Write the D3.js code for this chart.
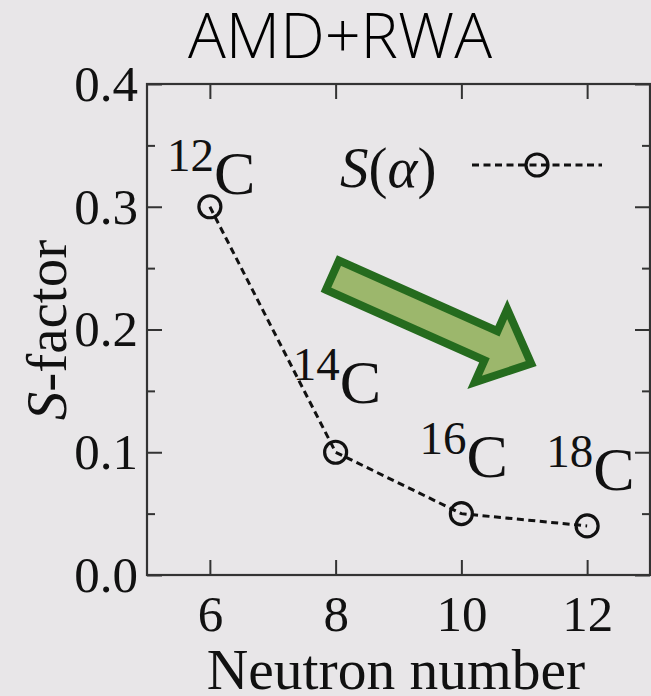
<!DOCTYPE html>
<html>
<head>
<meta charset="utf-8">
<script src="https://cdn.jsdelivr.net/npm/d3@7"></script>
<style>
  html, body { margin: 0; padding: 0; background: #e8e6e8; }
  svg { display: block; }
</style>
</head>
<body>
<svg id="chart" width="651" height="696"></svg>
<script>
// Neutron number of each carbon isotope and its S(alpha) spectroscopic factor
const neutronNumbers = [6, 8, 10, 12];
const massNumbers = ["12", "14", "16", "18"];
const sAlpha = [0.30, 0.10, 0.05, 0.04];
const xTicks = [6, 8, 10, 12];
const yTicks = [0.0, 0.1, 0.2, 0.3, 0.4];
const yMinorTicks = [0.05, 0.15, 0.25, 0.35];

const W = 651, H = 696;
const frame = { left: 147, right: 650, top: 84, bottom: 575 };
const serif = "'Liberation Serif', 'Times New Roman', serif";
const ink = "#111";

const svg = d3.select("#chart");
svg.append("rect").attr("width", W).attr("height", H).attr("fill", "#e8e6e8");

const x = d3.scaleLinear().domain([5, 13]).range([frame.left, frame.right]);
const y = d3.scaleLinear().domain([0, 0.4]).range([frame.bottom, frame.top]);

// Title
svg.append("text")
  .attr("x", 340).attr("y", 58)
  .attr("text-anchor", "middle")
  .attr("font-family", "'Open Sans', 'Noto Sans', sans-serif")
  .attr("font-weight", 300)
  .attr("font-size", 63)
  .attr("fill", "#000")
  .text("AMD+RWA");

// Axes with inward ticks
const axisStyle = g => {
  g.selectAll(".domain").remove();
  g.selectAll("line").attr("stroke", "#333").attr("stroke-width", 2);
  g.selectAll("text").attr("font-family", serif).attr("font-size", 51).attr("fill", ink);
};

svg.append("g").attr("transform", `translate(0,${frame.bottom})`)
  .call(d3.axisBottom(x).tickValues(xTicks).tickSize(-15).tickPadding(20).tickFormat(d3.format("d")))
  .call(axisStyle);
svg.append("g").attr("transform", `translate(0,${frame.top})`)
  .call(d3.axisTop(x).tickValues(xTicks).tickSize(-15).tickFormat(""))
  .call(axisStyle);
svg.append("g").attr("transform", `translate(${frame.left},0)`)
  .call(d3.axisLeft(y).tickValues(yTicks).tickSize(-15).tickPadding(9).tickFormat(d3.format(".1f")))
  .call(axisStyle);
svg.append("g").attr("transform", `translate(${frame.left},0)`)
  .call(d3.axisLeft(y).tickValues(yMinorTicks).tickSize(-8).tickFormat(""))
  .call(axisStyle);
svg.append("g").attr("transform", `translate(${frame.right},0)`)
  .call(d3.axisRight(y).tickValues(yTicks).tickSize(-15).tickFormat(""))
  .call(axisStyle);
svg.append("g").attr("transform", `translate(${frame.right},0)`)
  .call(d3.axisRight(y).tickValues(yMinorTicks).tickSize(-8).tickFormat(""))
  .call(axisStyle);

// Plot frame
svg.append("rect")
  .attr("x", frame.left).attr("y", frame.top)
  .attr("width", frame.right - frame.left).attr("height", frame.bottom - frame.top)
  .attr("fill", "none").attr("stroke", "#333").attr("stroke-width", 2.2);

// Axis titles
svg.append("text")
  .attr("x", 396).attr("y", 689)
  .attr("text-anchor", "middle")
  .attr("font-family", serif).attr("font-size", 57.5).attr("fill", ink)
  .text("Neutron number");

const yLab = svg.append("text")
  .attr("transform", `translate(66,330) rotate(-90)`)
  .attr("text-anchor", "middle")
  .attr("font-family", serif).attr("font-size", 57).attr("fill", ink);
yLab.append("tspan").attr("font-style", "italic").text("S");
yLab.append("tspan").text("-factor");

// Green trend arrow, tail and tip in data units
const arrowTail = [7.95, 0.2443];
const arrowTip = [11.11, 0.1722];
(function drawArrow() {
  const [x0, y0] = [x(arrowTail[0]), y(arrowTail[1])];
  const [x1, y1] = [x(arrowTip[0]), y(arrowTip[1])];
  const dx = x1 - x0, dy = y1 - y0, L = Math.hypot(dx, dy);
  const ux = dx / L, uy = dy / L, nx = -uy, ny = ux;
  const sw = 16, hw = 40, hl = 44;
  const bx = x1 - ux * hl, by = y1 - uy * hl;
  const pts = [
    [x0 + nx * sw, y0 + ny * sw],
    [bx + nx * sw, by + ny * sw],
    [bx + nx * hw, by + ny * hw],
    [x1, y1],
    [bx - nx * hw, by - ny * hw],
    [bx - nx * sw, by - ny * sw],
    [x0 - nx * sw, y0 - ny * sw]
  ];
  svg.append("path")
    .attr("d", d3.line()(pts) + "Z")
    .attr("fill", "#9cb76c")
    .attr("stroke", "#256b1e")
    .attr("stroke-width", 8)
    .attr("stroke-linejoin", "miter")
    .attr("stroke-miterlimit", 10);
})();

// Data series: dashed line with open circles
const pts = neutronNumbers.map((n, i) => [n, sAlpha[i]]);
svg.append("path")
  .attr("d", d3.line().x(d => x(d[0])).y(d => y(d[1]))(pts))
  .attr("fill", "none").attr("stroke", ink)
  .attr("stroke-width", 3).attr("stroke-dasharray", "7,4.5");
svg.selectAll("circle.pt").data(pts).enter().append("circle")
  .attr("class", "pt")
  .attr("cx", d => x(d[0])).attr("cy", d => y(d[1]))
  .attr("r", 11).attr("fill", "none").attr("stroke", ink).attr("stroke-width", 3.2);

// Isotope labels (mass number as superscript)
const labelOffset = [[-43, -13], [-43, -49], [-42, -37], [-41, -36]];
pts.forEach((d, i) => {
  const t = svg.append("text")
    .attr("x", x(d[0]) + labelOffset[i][0])
    .attr("y", y(d[1]) + labelOffset[i][1])
    .attr("font-family", serif).attr("fill", ink);
  t.append("tspan").attr("font-size", 47).attr("dy", -23).text(massNumbers[i]);
  t.append("tspan").attr("font-size", 62).attr("dy", 23).text("C");
});

// Legend
const leg = svg.append("text")
  .attr("x", 340).attr("y", 187)
  .attr("font-family", serif).attr("font-size", 57).attr("fill", ink);
leg.append("tspan").attr("font-style", "italic").text("S");
leg.append("tspan").text("(");
leg.append("tspan").attr("font-style", "italic").text("α");
leg.append("tspan").text(")");
svg.append("line")
  .attr("x1", 472).attr("x2", 602).attr("y1", 165).attr("y2", 165)
  .attr("stroke", ink).attr("stroke-width", 3).attr("stroke-dasharray", "7,4.5");
svg.append("circle")
  .attr("cx", 537).attr("cy", 165).attr("r", 11)
  .attr("fill", "none").attr("stroke", ink).attr("stroke-width", 3.2);
</script>
</body>
</html>
